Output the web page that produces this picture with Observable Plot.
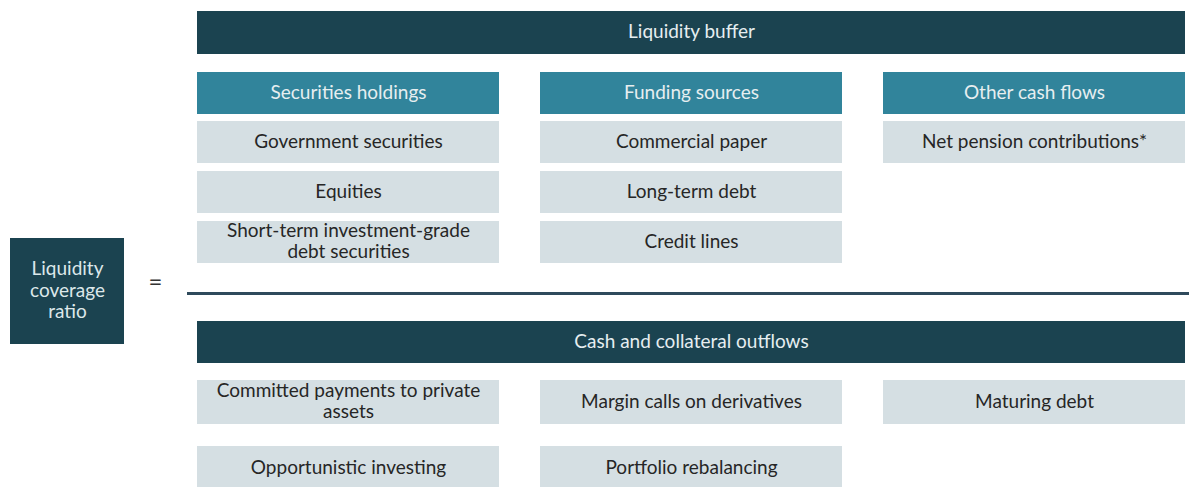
<!DOCTYPE html>
<html>
<head>
<meta charset="utf-8">
<script src="https://cdn.jsdelivr.net/npm/d3@7"></script>
<script src="https://cdn.jsdelivr.net/npm/@observablehq/plot@0.6"></script>
<style>
  html, body { margin: 0; padding: 0; background: #ffffff; }
  #chart svg { display: block; }
</style>
</head>
<body>
<div id="chart"></div>
<script>
// ---- Content (text only) ----
const ratioLabel = "Liquidity\ncoverage\nratio";
const numeratorTitle = "Liquidity buffer";
const denominatorTitle = "Cash and collateral outflows";
const groupHeaders = ["Securities holdings", "Funding sources", "Other cash flows"];
const bufferItems = [
  ["Government securities", "Equities", "Short-term investment-grade\ndebt securities"],
  ["Commercial paper", "Long-term debt", "Credit lines"],
  ["Net pension contributions*"]
];
const outflowItems = [
  ["Committed payments to private\nassets", "Opportunistic investing"],
  ["Margin calls on derivatives", "Portfolio rebalancing"],
  ["Maturing debt"]
];

// ---- Layout (diagram grid) ----
const W = 1189, H = 487;
const colX0 = 197, colStep = 343, colW = 302;
const col = i => ({x1: colX0 + i * colStep, x2: colX0 + i * colStep + colW});
const fullSpan = {x1: 197, x2: 1185};

const dark = "#1b4350", teal = "#31849b", light = "#d5dfe3";

const boxes = [];
// top banner
boxes.push({...fullSpan, y1: 11, y2: 54, fill: dark, text: numeratorTitle, color: "#e6eef0"});
// group headers
groupHeaders.forEach((h, i) => boxes.push({...col(i), y1: 72, y2: 114, fill: teal, text: h, color: "#e6eef0"}));
// buffer items
bufferItems.forEach((items, i) => items.forEach((t, r) =>
  boxes.push({...col(i), y1: 121 + r * 50, y2: 163 + r * 50, fill: light, text: t, color: "#262626"})));
// outflow banner
boxes.push({...fullSpan, y1: 321, y2: 363, fill: dark, text: denominatorTitle, color: "#e6eef0"});
// outflow items
outflowItems.forEach((items, i) => items.forEach((t, r) =>
  boxes.push({...col(i), y1: 380 + r * 66, y2: 424 + r * 66, fill: light, text: t, color: "#262626"})));
// ratio box
boxes.push({x1: 10, x2: 124, y1: 238, y2: 344, fill: dark, text: ratioLabel, color: "#dde8ea"});

const chart = Plot.plot({
  width: W,
  height: H,
  margin: 0,
  x: {domain: [0, W], range: [0, W], axis: null},
  y: {domain: [0, H], range: [0, H], axis: null},
  style: {fontFamily: "Lato, 'Open Sans', sans-serif", background: "#ffffff"},
  marks: [
    Plot.rect(boxes, {x1: "x1", x2: "x2", y1: "y1", y2: "y2", fill: "fill"}),
    Plot.text(boxes, {
      x: d => (d.x1 + d.x2) / 2,
      y: d => (d.y1 + d.y2) / 2,
      text: "text",
      fill: "color",
      fontSize: 19,
      lineHeight: 1.15,
      dy: -2
    }),
    Plot.ruleY([293], {x1: 187, x2: W, stroke: "#2f4a5c", strokeWidth: 3}),
    Plot.text(["="], {x: 155, y: 283, text: d => d, fontSize: 24, fill: "#333333", dy: -1})
  ]
});
document.getElementById("chart").appendChild(chart);
</script>
</body>
</html>
